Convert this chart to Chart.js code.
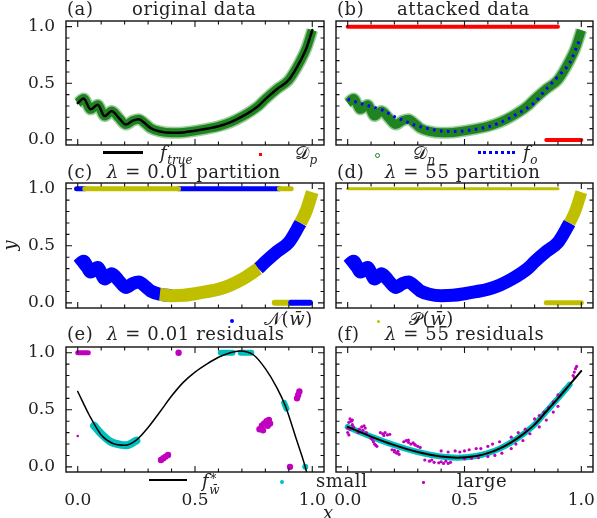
<!DOCTYPE html>
<html>
<head>
<meta charset="utf-8">
<script src="https://cdn.jsdelivr.net/npm/chart.js@4.4.1/dist/chart.umd.min.js"></script>
<style>
  body { margin: 0; background: #fff; }
  #fig { position: relative; width: 597px; height: 518px; overflow: hidden; font-family: "DejaVu Serif", serif; color: #222; }
  #fig canvas { position: absolute; z-index: 1; }
  .t { position: absolute; z-index: 2; font-size: 18px; line-height: 20px; white-space: pre; letter-spacing: .6px; }
  .i { font-style: italic; }
  .sub { font-size: 12px; font-style: italic; position: relative; top: 5px; letter-spacing: 0; }
  .mk { position: absolute; z-index: 2; }
</style>
</head>
<body>
<div id="fig">
  <canvas id="ca" width="330" height="159" style="left:0;top:0"></canvas>
  <canvas id="cb" width="271" height="159" style="left:329px;top:0"></canvas>
  <canvas id="cc" width="330" height="157" style="left:0;top:165px"></canvas>
  <canvas id="cd" width="271" height="157" style="left:329px;top:165px"></canvas>
  <canvas id="ce" width="330" height="188" style="left:0;top:330px"></canvas>
  <canvas id="cf" width="271" height="188" style="left:329px;top:330px"></canvas>

  <!-- panel titles -->
  <div class="t" style="left:67px;top:-1px">(a)</div><div class="t" style="left:132px;top:-1px">original data</div>
  <div class="t" style="left:337px;top:-1px">(b)</div><div class="t" style="left:397px;top:-1px">attacked data</div>
  <div class="t" style="left:67px;top:162px">(c)</div><div class="t" style="left:107px;top:162px"><span class="i">λ</span> = 0.01 partition</div>
  <div class="t" style="left:337px;top:162px">(d)</div><div class="t" style="left:385px;top:162px"><span class="i">λ</span> = 55 partition</div>
  <div class="t" style="left:67px;top:324px">(e)</div><div class="t" style="left:107px;top:324px"><span class="i">λ</span> = 0.01 residuals</div>
  <div class="t" style="left:337px;top:324px">(f)</div><div class="t" style="left:385px;top:324px"><span class="i">λ</span> = 55 residuals</div>

  <!-- legend row 1 -->
  <div class="mk" style="left:103px;top:151px;width:40px;height:2.5px;background:#000"></div>
  <div class="t" style="left:160px;top:143px"><span class="i">f</span><span class="sub">true</span></div>
  <div class="mk" style="left:259px;top:153px;width:3px;height:3px;background:#f00"></div>
  <div class="t" style="left:295px;top:143px">𝒟<span class="sub">p</span></div>
  <div class="mk" style="left:375px;top:153px;width:3px;height:3px;border:1px solid #1a801a;border-radius:50%"></div>
  <div class="t" style="left:413px;top:143px">𝒟<span class="sub">n</span></div>
  <div class="mk" style="left:478px;top:151px;width:37px;height:0;border-top:3px dotted #00f"></div>
  <div class="t" style="left:523px;top:143px"><span class="i">f</span><span class="sub">o</span></div>

  <!-- legend row 2 -->
  <div class="mk" style="left:230px;top:319px;width:4px;height:4px;background:#00f;border-radius:50%"></div>
  <div class="t" style="left:264px;top:309px">𝒩(<span class="i">w̄</span>)</div>
  <div class="mk" style="left:377px;top:320px;width:3px;height:3px;background:#bfbf00;border-radius:50%"></div>
  <div class="t" style="left:409px;top:309px">𝒫(<span class="i">w̄</span>)</div>

  <!-- legend row 3 -->
  <div class="mk" style="left:149px;top:479px;width:38px;height:2px;background:#000"></div>
  <div class="t" style="left:202px;top:471px"><span class="i">f</span><span style="position:relative;display:inline-block;width:14px;height:10px"><span style="position:absolute;left:1px;top:-8px;font-size:12px">*</span><span class="i" style="position:absolute;left:0;top:3px;font-size:12px">w̄</span></span></div>
  <div class="mk" style="left:280px;top:480px;width:4px;height:4px;background:#00bfbf;border-radius:50%"></div>
  <div class="t" style="left:316px;top:471px">small</div>
  <div class="mk" style="left:422px;top:481px;width:2.5px;height:2.5px;background:#bf00bf;border-radius:50%"></div>
  <div class="t" style="left:457px;top:471px">large</div>

  <div class="t i" style="left:323px;top:503px">x</div>
</div>

<script>
// clean data (D_n) sampled along x; the black f_true curve runs through it (panel a)
const xs    = [0, .025, .055, .085, .115, .145, .175, .205, .235, .26, .29, .31, .35, .40, .45, .50, .55, .60, .65, .70, .77, .80, .85, .90, .95, .975, 1.0];
const yTrue = [.325, .365, .27, .31, .21, .255, .195, .135, .17, .183, .14, .105, .075, .063, .066, .08, .098, .12, .155, .205, .30, .36, .45, .53, .70, .81, .97];

// f_o, fit on the attacked data (panel b)
const xFo = [0, .05, .10, .15, .20, .25, .30, .35, .40, .45, .50, .55, .60, .65, .70, .75, .80, .85, .90, .95, .99];
const yFo = [.36, .325, .295, .262, .205, .163, .122, .097, .078, .075, .08, .095, .115, .15, .20, .26, .33, .45, .56, .68, .87];

// poisoned points D_p: x extents of the runs at y = 1 and y = 0
const dpHigh = [0, .90];
const dpLow  = [.85, 1.0];

// partition at lambda = 0.01 (panel c): x ranges of each group
const cNegCurve = [[0, .40], [.77, .95]];
const cPosCurve = [[.35, .77], [.95, 1.0]];
const cNegHigh  = [[-.005, .03], [.43, .86]];
const cPosHigh  = [[.03, .43], [.86, .91]];
const cPosLow   = [[.84, .91]];
const cNegLow   = [[.91, .99]];

// partition at lambda = 55 (panel d)
const dNegCurve = [[0, .95]];
const dPosCurve = [[.95, 1.0]];
const dPosHigh  = [[0, .90]];
const dPosLow   = [[.85, 1.0]];

// fitted model f*_w at lambda = 0.01 (panel e)
const xFitE = [0, .05, .10, .15, .20, .25, .30, .35, .40, .45, .50, .55, .60, .65, .69, .75, .80, .85, .885, .934, .97, 1.0];
const yFitE = [.66, .45, .28, .205, .19, .235, .345, .48, .62, .74, .83, .90, .96, 1.0, 1.015, .98, .86, .69, .535, .23, 0, -.25];
const eSmallCurve = [[.07, .36], [.10, .29], [.14, .22], [.18, .195], [.21, .19], [.25, .23]];
const eSmallHigh  = [[.61, .66], [.695, .74]];
const eSmallBit   = [[.88, .56], [.89, .51]];
const eSmallDots  = [[.97, 0]];
const eLargeHigh  = [0, .045];
const eLarge = [[.355, .06], [.365, .075], [.375, .09], [.385, .105],
  [.775, .33], [.785, .36], [.795, .38], [.805, .40], [.815, .41], [.79, .32], [.81, .36], [.82, .38],
  [.935, .60], [.94, .63], [.945, .66], [.905, 0], [.43, 1.0]];
const eLargeTiny = [[0, .27]];

// fitted model at lambda = 55 (panel f)
const xFitF = [0, .10, .20, .30, .40, .47, .55, .60, .65, .70, .75, .80, .85, .90, .95, 1.0];
const yFitF = [.35, .265, .19, .13, .09, .08, .095, .12, .16, .215, .285, .37, .485, .60, .72, .84];
const fLarge = [
  [0, .30], [0, .34], [.005, .39], [.01, .42], [.015, .40], [.02, .37], [.01, .33], [.025, .35], [.005, .28], [.02, .41],
  [.045, .30], [.05, .33], [.06, .35], [.07, .36], [.065, .32], [.075, .34], [.08, .30],
  [.10, .25], [.11, .22], [.115, .20], [.12, .19], [.105, .24], [.125, .18],
  [.14, .30], [.15, .29], [.16, .30], [.17, .28], [.18, .285], [.155, .275],
  [.19, .15], [.20, .13], [.21, .12], [.22, .11], [.20, .145], [.215, .135],
  [.24, .22], [.25, .23], [.26, .215], [.27, .20], [.28, .21], [.29, .19], [.30, .18], [.31, .17], [.26, .235], [.285, .20],
  [.33, .06], [.35, .05], [.37, .04], [.39, .035], [.41, .03], [.43, .03], [.36, .06], [.40, .045], [.42, .05], [.44, .04],
  [.40, .14], [.43, .13], [.46, .14], [.48, .13], [.50, .14], [.52, .15], [.55, .16], [.57, .16], [.60, .18], [.62, .20], [.65, .22],
  [.50, .07], [.53, .075], [.56, .08], [.60, .09], [.63, .10], [.66, .12], [.70, .16], [.72, .20], [.75, .23], [.78, .29],
  [.70, .26], [.73, .30], [.76, .33], [.80, .42], [.82, .45], [.84, .48], [.86, .52], [.88, .57], [.90, .63],
  [.82, .35], [.85, .41], [.88, .48], [.90, .53],
  [.965, .80], [.97, .83], [.975, .86], [.98, .88], [.97, .78]];

const majorTicks = [0, 0.5, 1.0];
const minorTicks = [0.1, 0.2, 0.3, 0.4, 0.6, 0.7, 0.8, 0.9];

const GREEN = '#1f841f', HALO = 'rgba(30,140,30,0.45)', BLUE = '#0000ff', YEL = '#bfbf00',
      CYAN = '#00bfbf', MAG = '#bf00bf', RED = '#ff0000';
const tickFont = {family: 'DejaVu Serif', size: 17};

const pts = (x, y) => x.map((v, i) => ({x: v, y: y[i]}));
const inRange = (x, y, lo, hi) => pts(x, y).filter(p => p.x >= lo && p.x <= hi);
const pairs = arr => arr.map(p => ({x: p[0], y: p[1]}));
const hline = (r, yv) => [{x: r[0], y: yv}, {x: r[1], y: yv}];

function line(data, color, width, extra) {
  return Object.assign({data, showLine: true, borderColor: color, borderWidth: width, pointRadius: 0,
    cubicInterpolationMode: 'monotone', borderCapStyle: 'round', borderJoinStyle: 'round', fill: false}, extra || {});
}
// thick band standing in for a dense cloud of scatter points
const band = (data, color, width) => line(data, color, width, {borderCapStyle: 'butt'});
function dots(data, color, r) {
  return {data, showLine: false, pointRadius: r, pointBackgroundColor: color, pointBorderWidth: 0};
}

const frame = {
  id: 'frame',
  afterDatasetsDraw(chart) {
    const {ctx, chartArea: a, scales: {x, y}} = chart;
    ctx.save();
    ctx.strokeStyle = '#111';
    ctx.lineWidth = 1.1;
    ctx.beginPath();
    const mark = (vals, len) => vals.forEach(v => {
      const px = x.getPixelForValue(v), py = y.getPixelForValue(v);
      ctx.moveTo(px, a.bottom); ctx.lineTo(px, a.bottom - len);
      ctx.moveTo(px, a.top); ctx.lineTo(px, a.top + len);
      ctx.moveTo(a.left, py); ctx.lineTo(a.left + len, py);
      ctx.moveTo(a.right, py); ctx.lineTo(a.right - len, py);
    });
    mark(majorTicks, 6);
    mark(minorTicks, 3.5);
    ctx.stroke();
    ctx.lineWidth = 1.4;
    ctx.strokeRect(a.left, a.top, a.right - a.left, a.bottom - a.top);
    ctx.restore();
  }
};

function makeChart(id, datasets, o) {
  return new Chart(document.getElementById(id), {
    type: 'scatter',
    data: {datasets},
    options: {
      responsive: false,
      animation: false,
      events: [],
      layout: {padding: {top: o.padTop, right: o.left ? 6 : 7, left: 0, bottom: 0}},
      plugins: {legend: {display: false}, tooltip: {enabled: false}},
      scales: {
        x: {
          type: 'linear', min: -0.05, max: 1.05,
          afterBuildTicks: s => { s.ticks = majorTicks.map(v => ({value: v})); },
          afterFit: s => { s.height = o.xh; },
          grid: {display: false, drawTicks: true, tickLength: 16},
          border: {display: false},
          ticks: {display: !!o.xLabels, padding: 2, font: tickFont, color: '#222', callback: v => v.toFixed(1)}
        },
        y: {
          type: 'linear', min: -0.045, max: 1.05,
          afterBuildTicks: s => { s.ticks = majorTicks.map(v => ({value: v})); },
          afterFit: s => { s.width = o.left ? 66 : 7; },
          grid: {display: false, drawTicks: true, tickLength: 9},
          border: {display: false},
          ticks: {display: !!o.left, padding: 2, font: tickFont, color: '#222', callback: v => v.toFixed(1)},
          title: {display: !!o.yTitle, text: 'y', color: '#222', padding: {top: 1, bottom: 0},
                  font: {family: 'DejaVu Serif', size: 18, style: 'italic'}}
        }
      }
    },
    plugins: [frame]
  });
}

// (a) original data
makeChart('ca', [
  line(pts(xs, yTrue), '#000', 2.5),
  band(pts(xs, yTrue), GREEN, 9),
  band(pts(xs, yTrue), HALO, 12)
], {left: true, padTop: 21, xh: 14});

// (b) attacked data
makeChart('cb', [
  line(pts(xFo, yFo), BLUE, 3, {borderDash: [2.5, 4.5], borderCapStyle: 'butt'}),
  line(hline(dpHigh, 1), RED, 4),
  line(hline(dpLow, 0), RED, 4),
  band(pts(xs, yTrue), GREEN, 9),
  band(pts(xs, yTrue), HALO, 12)
], {left: false, padTop: 21, xh: 14});

// (c) lambda = 0.01 partition
makeChart('cc', [
  ...cPosCurve.map(r => band(inRange(xs, yTrue, r[0], r[1]), YEL, 13)),
  ...cNegCurve.map(r => band(inRange(xs, yTrue, r[0], r[1]), BLUE, 13)),
  ...cPosHigh.map(r => line(hline(r, 1), YEL, 5)),
  ...cNegHigh.map(r => line(hline(r, 1), BLUE, 5)),
  ...cNegLow.map(r => line(hline(r, 0), BLUE, 6)),
  ...cPosLow.map(r => line(hline(r, 0), YEL, 6))
], {left: true, yTitle: true, padTop: 18, xh: 14});

// (d) lambda = 55 partition
makeChart('cd', [
  ...dPosCurve.map(r => band(inRange(xs, yTrue, r[0], r[1]), YEL, 12)),
  ...dNegCurve.map(r => band(inRange(xs, yTrue, r[0], r[1]), BLUE, 13)),
  ...dPosHigh.map(r => line(hline(r, 1), YEL, 3)),
  ...dPosLow.map(r => line(hline(r, 0), YEL, 5))
], {left: false, padTop: 18, xh: 14});

// (e) lambda = 0.01 residuals
makeChart('ce', [
  line(pts(xFitE, yFitE), '#000', 1.5),
  line(pairs(eSmallCurve), CYAN, 8),
  ...eSmallHigh.map(r => line(hline(r, 1), CYAN, 6)),
  line(pairs(eSmallBit), CYAN, 6),
  dots(pairs(eSmallDots), CYAN, 3),
  line(hline(eLargeHigh, 1), MAG, 5),
  dots(pairs(eLarge), MAG, 3.2),
  dots(pairs(eLargeTiny), MAG, 1.3)
], {left: true, padTop: 17, xh: 46, xLabels: true});

// (f) lambda = 55 residuals
makeChart('cf', [
  line(pts(xFitF, yFitF), '#000', 2),
  dots(pairs(fLarge), MAG, 1.6),
  line(inRange(xFitF, yFitF, 0, .96), CYAN, 6)
], {left: false, padTop: 17, xh: 46, xLabels: true});
</script>
</body>
</html>
